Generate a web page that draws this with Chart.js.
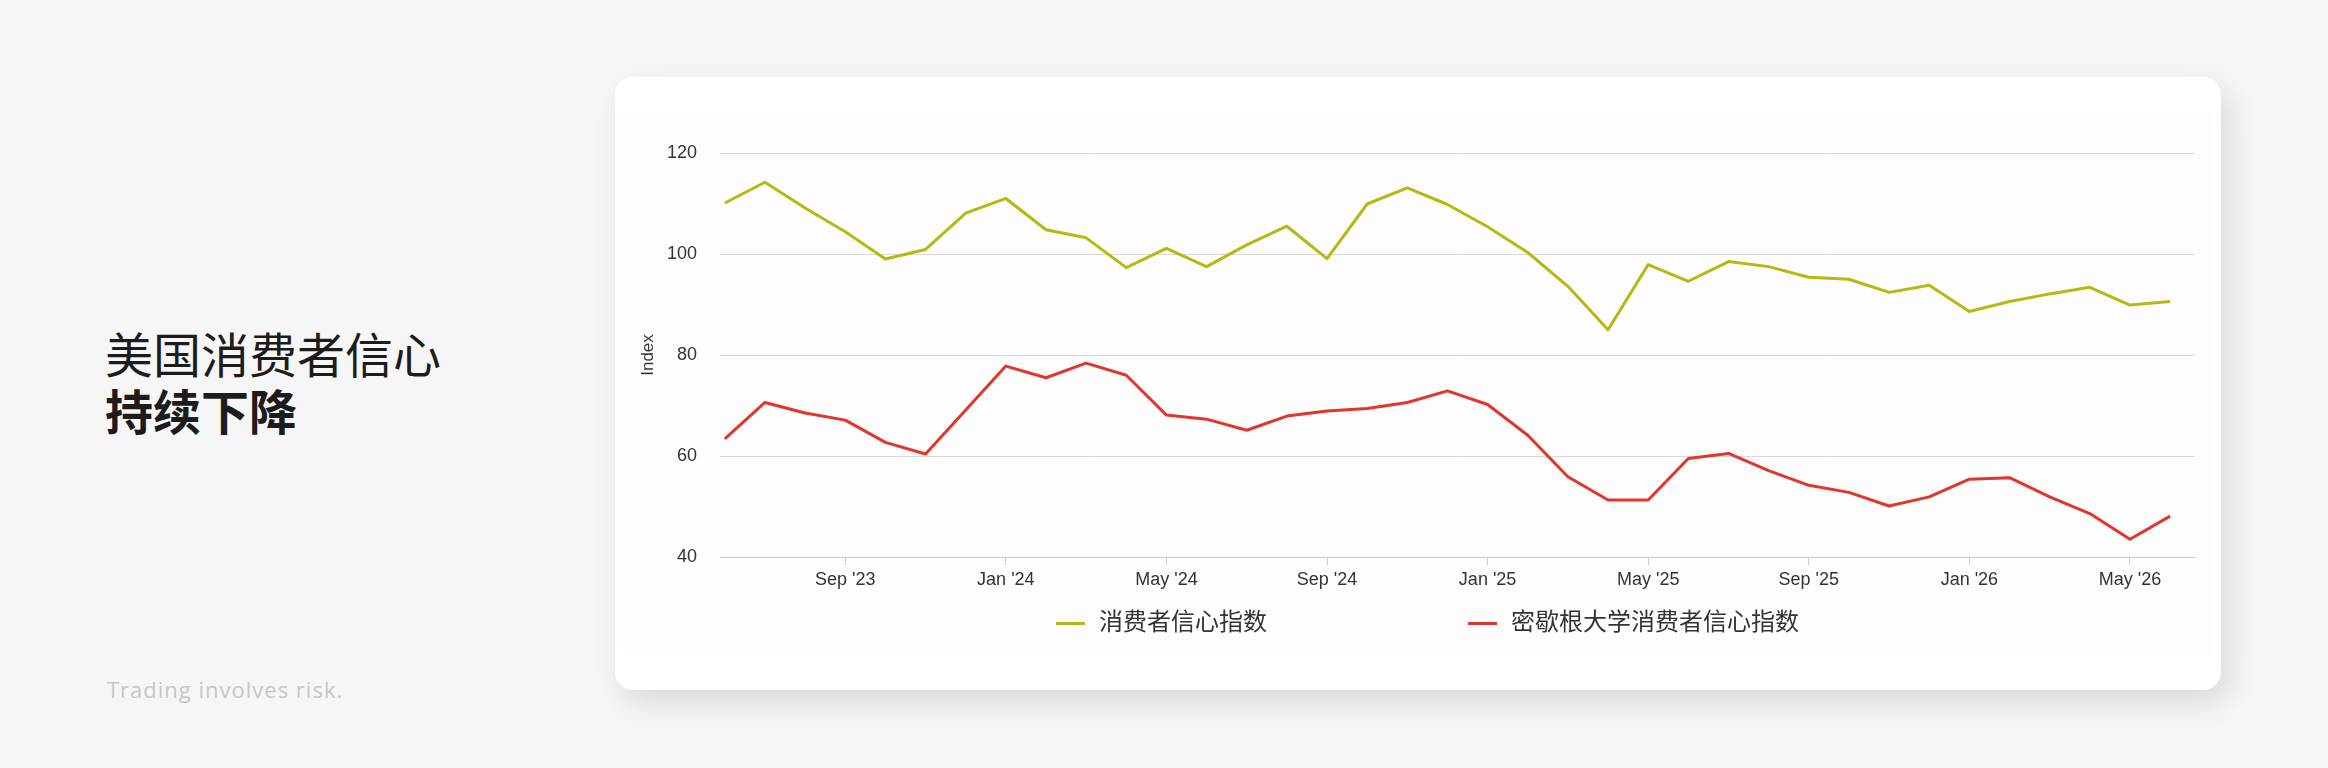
<!DOCTYPE html>
<html>
<head>
<meta charset="utf-8">
<script src="https://cdn.jsdelivr.net/npm/chart.js@4/dist/chart.umd.min.js"></script>
<style>
  html, body { margin: 0; padding: 0; }
  body { width: 2328px; height: 768px; background: #f6f6f6; position: relative; overflow: hidden; }
  .title { position: absolute; left: 105px; top: 324px; font-family: "Noto Sans CJK SC", sans-serif; font-size: 48px; line-height: 57px; color: #1c1c1c; }
  .title b { font-weight: 700; }
  .note { position: absolute; left: 107px; top: 674px; font-family: "Open Sans", sans-serif; font-size: 22px; letter-spacing: 1px; color: #c6c6c6; }
  .card { position: absolute; left: 615px; top: 77px; width: 1606px; height: 613px; background: #fff; border-radius: 18px; box-shadow: 8px 12px 32px rgba(0,0,0,0.12); }
  #chart { position: absolute; left: 623px; top: 112px; background: #fdfdfd; }
  .legend-item { position: absolute; top: 604px; height: 30px; display: flex; align-items: center; font-family: "Noto Sans CJK SC", sans-serif; font-size: 24px; color: #333; }
  .legend-item i { display: inline-block; width: 29px; height: 3px; margin-right: 14px; margin-top: 8px; }
</style>
</head>
<body>
<div class="title">美国消费者信心<br><b>持续下降</b></div>
<div class="note">Trading involves risk.</div>
<div class="card"></div>
<canvas id="chart" width="1589" height="541"></canvas>
<div id="legend"></div>
<script>
// monthly readings, Jun '23 .. Jun '26
var months = ["Jun '23","Jul '23","Aug '23","Sep '23","Oct '23","Nov '23","Dec '23",
  "Jan '24","Feb '24","Mar '24","Apr '24","May '24","Jun '24","Jul '24","Aug '24","Sep '24","Oct '24","Nov '24","Dec '24",
  "Jan '25","Feb '25","Mar '25","Apr '25","May '25","Jun '25","Jul '25","Aug '25","Sep '25","Oct '25","Nov '25","Dec '25",
  "Jan '26","Feb '26","Mar '26","Apr '26","May '26","Jun '26"];

var consumerConfidence = [110.1,114.2,109.1,104.4,99.0,100.9,108.1,111.0,104.8,103.2,97.3,101.1,97.5,101.8,105.5,99.1,109.9,
  113.1,109.8,105.4,100.3,93.6,85.0,97.9,94.6,98.5,97.5,95.4,95.0,92.4,93.8,88.6,90.6,92.1,93.4,89.9,90.6];

var michigan = [63.4,70.6,68.5,67.1,62.7,60.4,69.1,77.8,75.5,78.4,76.0,68.1,67.3,65.1,67.9,68.9,69.4,
  70.6,72.9,70.2,64.1,55.9,51.3,51.3,59.5,60.5,57.1,54.2,52.8,50.1,51.9,55.4,55.7,51.9,48.6,43.5,48.1];

var tickLabels = ["Sep '23","Jan '24","May '24","Sep '24","Jan '25","May '25","Sep '25","Jan '26","May '26"];
var yTicks = [40, 60, 80, 100, 120];

var seriesNames = ["消费者信心指数", "密歇根大学消费者信心指数"];
var seriesColors = ["#b9b712", "#e0362d"];

function toPoints(arr) {
    return arr.map(function (v, i) { return { x: i, y: v }; });
}

var latin = "'Liberation Sans', Arial, sans-serif";

const ctx = document.getElementById('chart').getContext('2d');
const chart = new Chart(ctx, {
    type: 'line',
    data: {
        datasets: [{
            label: seriesNames[0],
            data: toPoints(consumerConfidence),
            borderColor: seriesColors[0],
            borderWidth: 3,
            pointRadius: 0,
            tension: 0,
            borderJoinStyle: 'round',
            fill: false
        }, {
            label: seriesNames[1],
            data: toPoints(michigan),
            borderColor: seriesColors[1],
            borderWidth: 3,
            pointRadius: 0,
            tension: 0,
            borderJoinStyle: 'round',
            fill: false
        }]
    },
    options: {
        responsive: false,
        animation: false,
        layout: { padding: { top: 41, right: 17, bottom: 56, left: 0 } },
        plugins: {
            legend: { display: false },
            tooltip: { enabled: false }
        },
        scales: {
            x: {
                type: 'linear',
                min: -0.12,
                max: 36.62,
                afterBuildTicks: function (scale) {
                    scale.ticks = tickLabels.map(function (t) { return { value: months.indexOf(t) }; });
                },
                afterFit: function (scale) { scale.height = 40; },
                ticks: {
                    autoSkip: false,
                    maxRotation: 0,
                    padding: 4,
                    color: '#333',
                    font: { family: latin, size: 18 },
                    callback: function (v) { return months[v]; }
                },
                grid: { drawOnChartArea: false, drawTicks: true, tickLength: 8, color: '#cccccc' },
                border: { display: true, color: '#cccccc', width: 1 }
            },
            y: {
                min: 40,
                max: 120,
                afterBuildTicks: function (scale) {
                    scale.ticks = yTicks.map(function (v) { return { value: v }; });
                },
                afterFit: function (scale) { scale.width = 97; },
                ticks: {
                    padding: 23,
                    color: '#333',
                    font: { family: latin, size: 18 }
                },
                grid: { drawTicks: false, color: '#d9d9d9', lineWidth: 1 },
                border: { display: false },
                title: {
                    display: true,
                    text: 'Index',
                    color: '#333',
                    padding: { top: 15, bottom: 0 },
                    font: { family: latin, size: 17 }
                }
            }
        }
    }
});

// html legend below the plot
var legendLeft = [1056, 1468];
var legend = document.getElementById('legend');
chart.data.datasets.forEach(function (ds, i) {
    var item = document.createElement('div');
    item.className = 'legend-item';
    item.style.left = legendLeft[i] + 'px';
    item.innerHTML = '<i style="background:' + ds.borderColor + '"></i><span>' + ds.label + '</span>';
    legend.appendChild(item);
});
</script>
</body>
</html>
